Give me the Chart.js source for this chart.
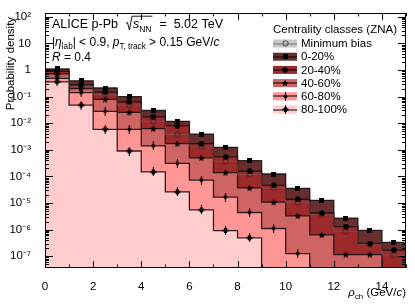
<!DOCTYPE html>
<html>
<head>
<meta charset="utf-8">
<script src="https://cdn.jsdelivr.net/npm/chart.js@4.4.0/dist/chart.umd.min.js"></script>
<style>
  html, body { margin: 0; padding: 0; background: #fff; }
</style>
</head>
<body>
<canvas id="rhoChart" width="415" height="306"></canvas>
<script>
// bins of rho_ch (GeV/c), 1 GeV/c wide
const binEdges = [0, 1, 2, 3, 4, 5, 6, 7, 8, 9, 10, 11, 12, 13, 14, 15];
const xTickValues = [0, 2, 4, 6, 8, 10, 12, 14];
const yTickLabels = ['10⁻⁷', '10⁻⁶', '10⁻⁵', '10⁻⁴', '10⁻³', '10⁻²', '10⁻¹', '1', '10', '10²'];

const classNames = ['Minimum bias', '0-20%', '20-40%', '40-60%', '60-80%', '80-100%'];

// probability density per bin, null = empty bin
const minBias = [0.60, 0.235, 0.116, 0.048, 0.0118, 0.0037, 0.00129, 3.7e-4, 1.18e-4, 3.7e-5, 1.03e-5, 3.6e-6, 8.7e-7, 2.8e-7, 1.1e-7];
const cent0to20 = [1.09, 0.39, 0.21, 0.10, 0.030, 0.0118, 0.0039, 0.00124, 3.9e-4, 1.23e-4, 3.5e-5, 1.26e-5, 2.7e-6, 9.3e-7, 3.3e-7];
const cent20to40 = [0.88, 0.28, 0.147, 0.063, 0.0174, 0.0081, 0.0017, 5.4e-4, 1.56e-4, 4.6e-5, 1.38e-5, 4.2e-6, 1.3e-6, 3.0e-7, 1.7e-7];
const cent40to60 = [0.71, 0.20, 0.079, 0.0256, 0.0062, 0.0017, 5.0e-4, 1.38e-4, 3.7e-5, 1.07e-5, 3.3e-6, 6.3e-7, 1.15e-7, 1.15e-7, null];
const cent60to80 = [0.48, 0.14, 0.028, 0.0059, 0.0014, 3.1e-4, 7.3e-5, 1.67e-5, 4.4e-6, 1.1e-6, 1.26e-7, null, null, null, null];
const cent80to100 = [0.36, 0.048, 0.0059, 9.0e-4, 1.47e-4, 2.6e-5, 5.5e-6, 9.2e-7, 4.9e-7, null, null, null, null, null, null];

const FONT = '"Liberation Sans", Arial, Helvetica, sans-serif';
const EMPTY = 1e-9; // below the axis, so empty bins drop out of view

// ---- marker images (ROOT-like full markers) ----
function makeMarker(w, h, draw) {
  const c = document.createElement('canvas');
  c.width = w; c.height = h;
  const g = c.getContext('2d');
  g.fillStyle = '#000'; g.strokeStyle = '#000';
  draw(g, w, h);
  return c;
}
const mkSquare = makeMarker(5, 5, (g) => g.fillRect(0, 0, 5, 5));
const mkCircle = makeMarker(6, 6, (g) => { g.beginPath(); g.arc(3, 3, 2.8, 0, Math.PI * 2); g.fill(); });
const mkStar = makeMarker(8, 8, (g) => {
  g.beginPath();
  for (let i = 0; i < 10; i++) {
    const r = i % 2 === 0 ? 3.8 : 1.6;
    const a = -Math.PI / 2 + i * Math.PI / 5;
    g.lineTo(4 + r * Math.cos(a), 4.3 + r * Math.sin(a));
  }
  g.closePath(); g.fill();
});
const mkDiamond = makeMarker(5, 9, (g) => {
  g.fillRect(2, 0, 1, 9);
  g.beginPath(); g.moveTo(2.5, 1.5); g.lineTo(4.6, 4.5); g.lineTo(2.5, 7.5); g.lineTo(0.4, 4.5); g.closePath(); g.fill();
});
const mkCross = makeMarker(7, 9, (g) => {
  g.fillRect(3, 0, 1, 9);
  g.fillRect(2, 2, 3, 5);
  g.fillRect(0.5, 3.5, 6, 2);
});
const mkOpen = makeMarker(7, 7, (g) => {
  g.strokeStyle = 'rgba(70,25,25,0.85)'; g.lineWidth = 0.9;
  g.beginPath(); g.arc(3.5, 3.5, 2.7, 0, Math.PI * 2); g.stroke();
});

const series = [
  { name: classNames[1], vals: cent0to20, fill: 'rgb(104,46,46)', marker: mkSquare },
  { name: classNames[2], vals: cent20to40, fill: 'rgb(156,42,42)', marker: mkCircle },
  { name: classNames[3], vals: cent40to60, fill: 'rgb(206,100,100)', marker: mkStar },
  { name: classNames[4], vals: cent60to80, fill: 'rgb(255,150,150)', marker: mkDiamond },
  { name: classNames[5], vals: cent80to100, fill: 'rgb(255,205,205)', marker: mkCross }
];

// histogram outline: value of bin i held from edge i to edge i+1
function stepPoints(vals) {
  return binEdges.map((x, i) => {
    const v = vals[Math.min(i, vals.length - 1)];
    return { x: x, y: v == null ? EMPTY : v };
  });
}
function centerPoints(vals) {
  const pts = [];
  vals.forEach((v, i) => { if (v != null) pts.push({ x: (binEdges[i] + binEdges[i + 1]) / 2, y: v }); });
  return pts;
}

const datasets = [];
series.forEach((s, i) => {
  datasets.push({
    label: s.name,
    data: stepPoints(s.vals),
    stepped: 'before',
    fill: 'start',
    backgroundColor: s.fill,
    borderColor: 'rgba(25,15,15,0.9)',
    borderWidth: 1.3,
    pointRadius: 0,
    order: 10 - i
  });
});
datasets.push({
  label: classNames[0],
  data: stepPoints(minBias),
  stepped: 'before',
  fill: false,
  borderColor: 'rgba(110,110,110,0.5)',
  borderWidth: 1,
  pointRadius: 0,
  order: 4
});
datasets.push({
  label: classNames[0] + ' pts',
  data: centerPoints(minBias),
  showLine: false,
  pointStyle: mkOpen,
  order: 3
});
series.forEach((s, i) => {
  datasets.push({
    label: s.name + ' pts',
    data: centerPoints(s.vals),
    showLine: false,
    pointStyle: s.marker,
    order: 2
  });
});

// ---- ROOT style ticks inside the frame ----
const frameTicks = {
  id: 'frameTicks',
  afterDatasetsDraw(chart) {
    const ctx = chart.ctx, ca = chart.chartArea;
    const sx = chart.scales.x, sy = chart.scales.y;
    ctx.save();
    ctx.strokeStyle = '#000';
    ctx.lineWidth = 1;
    ctx.beginPath();
    for (let v = 0; v <= 15; v++) {
      const px = Math.round(sx.getPixelForValue(v)) + 0.5;
      const len = v % 2 === 0 ? 7 : 3.5;
      ctx.moveTo(px, ca.bottom); ctx.lineTo(px, ca.bottom - len);
      ctx.moveTo(px, ca.top); ctx.lineTo(px, ca.top + len);
    }
    for (let e = -8; e <= 2; e++) {
      for (let m = 1; m <= 9; m++) {
        const v = m * Math.pow(10, e);
        if (v < sy.min || v > sy.max) continue;
        const py = Math.round(sy.getPixelForValue(v)) + 0.5;
        const len = m === 1 ? 8 : 4;
        ctx.moveTo(ca.left, py); ctx.lineTo(ca.left + len, py);
        ctx.moveTo(ca.right, py); ctx.lineTo(ca.right - len, py);
      }
    }
    ctx.stroke();
    ctx.strokeRect(Math.round(ca.left) + 0.5, Math.round(ca.top) + 0.5,
      Math.round(ca.right - ca.left) - 1, Math.round(ca.bottom - ca.top) - 1);
    ctx.restore();
  }
};

// rich text: parts with italics, subscripts and a radical
function richWidth(ctx, parts, size) {
  let w = 0;
  parts.forEach(p => {
    const fs = p.sub ? size * 0.68 : size;
    ctx.font = (p.it ? 'italic ' : '') + fs + 'px ' + FONT;
    w += ctx.measureText(p.t).width;
  });
  return w;
}
function drawRich(ctx, x, y, parts, size) {
  let overStart = null;
  parts.forEach(p => {
    if (p.root) {
      // hand drawn radical sign
      ctx.save();
      ctx.lineWidth = 0.9;
      ctx.strokeStyle = '#000';
      ctx.beginPath();
      ctx.moveTo(x + 1, y - size * 0.35);
      ctx.lineTo(x + 2.5, y - size * 0.45);
      ctx.lineTo(x + 4.5, y + 2);
      ctx.lineTo(x + 7, y - size * 0.95);
      ctx.stroke();
      ctx.restore();
      overStart = x + 7;
      x += 8;
      return;
    }
    const fs = p.sub ? size * 0.68 : size;
    ctx.font = (p.it ? 'italic ' : '') + fs + 'px ' + FONT;
    ctx.fillText(p.t, x, y + (p.sub ? size * 0.28 : 0));
    x += ctx.measureText(p.t).width;
    if (p.overEnd) {
      x += 1;
      ctx.fillRect(overStart, y - size * 0.95 - 0.4, x - overStart, 0.9);
      overStart = null;
    }
  });
  return x;
}

const annotations = {
  id: 'annotations',
  afterDraw(chart) {
    const ctx = chart.ctx, ca = chart.chartArea;
    ctx.save();
    ctx.fillStyle = '#000';
    ctx.textBaseline = 'alphabetic';
    ctx.textAlign = 'left';

    // top-left labels
    drawRich(ctx, 52, 28, [
      { t: 'ALICE p-Pb  ' }, { root: true }, { t: 's', it: true }, { t: 'NN', sub: true, overEnd: true },
      { t: '  =  5.02 TeV' }
    ], 12.5);
    drawRich(ctx, 52, 46, [
      { t: '|' }, { t: 'η', it: true }, { t: 'lab', sub: true }, { t: '| < 0.9, ' },
      { t: 'p', it: true }, { t: 'T, track', sub: true }, { t: ' > 0.15 GeV/' }, { t: 'c', it: true }
    ], 12);
    drawRich(ctx, 52, 61, [{ t: 'R', it: true }, { t: ' = 0.4' }], 12);

    // x axis title, right aligned
    const xt = [{ t: 'ρ', it: true }, { t: 'ch', sub: true }, { t: ' (GeV/' }, { t: 'c', it: true }, { t: ')' }];
    drawRich(ctx, ca.right - richWidth(ctx, xt, 11.5), 296, xt, 11.5);

    // y axis title, top aligned
    ctx.translate(11, ca.top + 4);
    ctx.rotate(-Math.PI / 2);
    ctx.textAlign = 'right';
    ctx.textBaseline = 'middle';
    ctx.font = '11.5px ' + FONT;
    ctx.fillText('Probability density', 0, 0);
    ctx.setTransform(1, 0, 0, 1, 0, 0);

    // legend
    ctx.textAlign = 'left';
    ctx.textBaseline = 'middle';
    ctx.font = '11.5px ' + FONT;
    ctx.fillText('Centrality classes (ZNA)', 273, 30);
    const rows = [{ name: classNames[0], fill: 'rgb(200,200,200)', marker: mkOpen, line: 'rgb(120,120,120)' }]
      .concat(series.map(s => ({ name: s.name, fill: s.fill, marker: s.marker, line: '#000' })));
    rows.forEach((r, i) => {
      const cy = 43.5 + i * 13.2;
      ctx.fillStyle = r.fill;
      ctx.fillRect(273, cy - 4, 24, 8);
      ctx.fillStyle = r.line;
      ctx.fillRect(273, Math.round(cy) - 0.5, 24, 1);
      ctx.drawImage(r.marker, Math.round(285 - r.marker.width / 2), Math.round(cy - r.marker.height / 2));
      ctx.fillStyle = '#000';
      ctx.fillText(r.name, 301, cy + 0.5);
    });
    ctx.restore();
  }
};

const config = {
  type: 'line',
  data: { datasets: datasets },
  options: {
    responsive: false,
    animation: false,
    devicePixelRatio: 1,
    layout: { padding: { top: 9, right: 9, left: 0, bottom: 0 } },
    plugins: { legend: { display: false }, tooltip: { enabled: false } },
    scales: {
      x: {
        type: 'linear',
        min: 0,
        max: 15,
        grid: { display: false },
        border: { display: false },
        afterBuildTicks: (s) => { s.ticks = xTickValues.map(v => ({ value: v })); },
        afterFit: (s) => { s.height = 38; },
        ticks: {
          autoSkip: false, maxRotation: 0, padding: 4, color: '#000',
          font: { family: FONT, size: 11.5 },
          callback: (v) => String(v)
        }
      },
      y: {
        type: 'logarithmic',
        min: 3.6e-8,
        max: 140,
        grid: { display: false },
        border: { display: false },
        afterBuildTicks: (s) => { s.ticks = yTickLabels.map((t, i) => ({ value: Math.pow(10, i - 7) })); },
        afterFit: (s) => { s.width = 45; },
        ticks: {
          autoSkip: false, padding: 6, color: '#000',
          font: { family: FONT, size: 11.5 },
          callback: (v) => yTickLabels[Math.round(Math.log10(v)) + 7]
        }
      }
    }
  },
  plugins: [frameTicks, annotations]
};

const rhoChart = new Chart(document.getElementById('rhoChart'), config);
</script>
</body>
</html>
